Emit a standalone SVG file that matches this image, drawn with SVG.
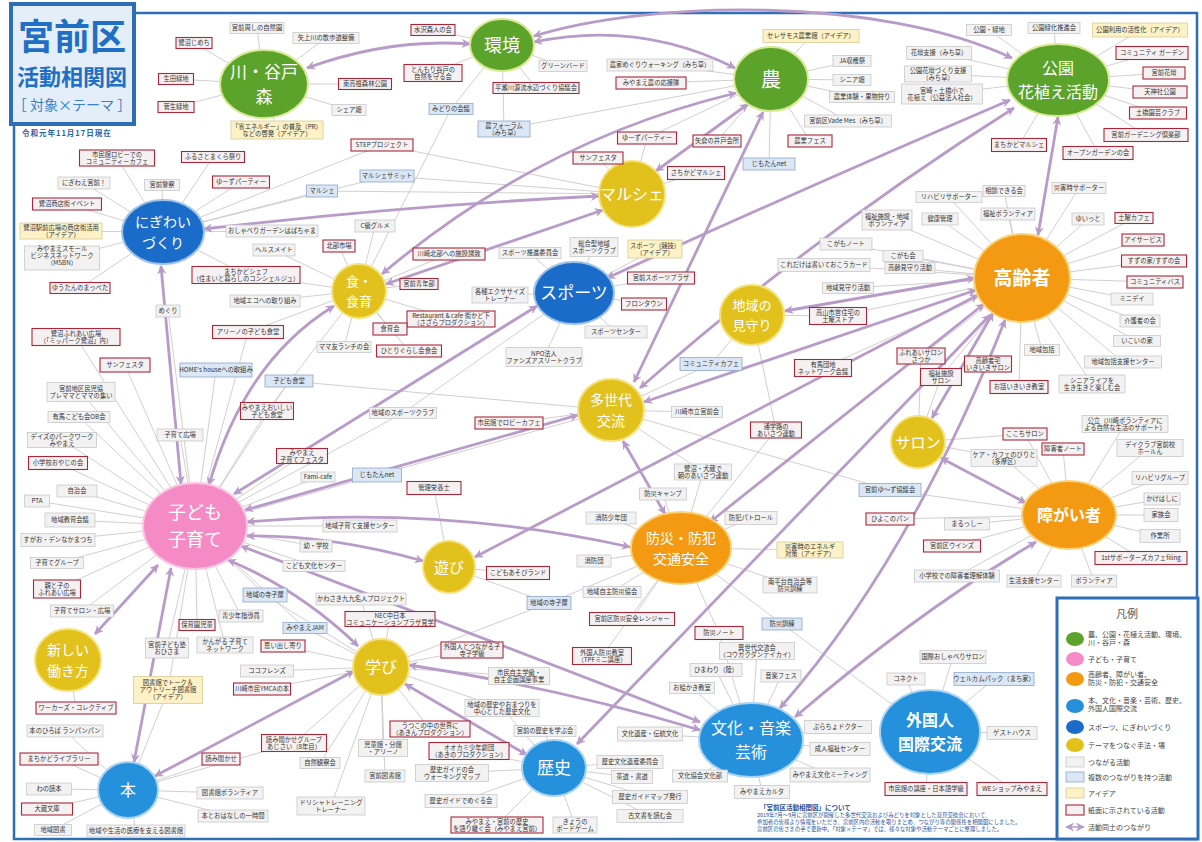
<svg xmlns="http://www.w3.org/2000/svg" width="1202" height="842" viewBox="0 0 1202 842">
<defs>
<marker id="ah" viewBox="0 0 10 10" refX="9" refY="5" markerWidth="11" markerHeight="9" markerUnits="userSpaceOnUse" orient="auto-start-reverse"><path d="M0,0 L10,5 L0,10 L3,5 z" fill="#b89bc8"/></marker>
<style>
.c{stroke:#cfc7cc;stroke-width:0.9;fill:none}
.a{stroke:#b89bc8;stroke-width:2.8;fill:none;marker-start:url(#ah);marker-end:url(#ah)}
.bg{fill:#f2f2f2;stroke:#c9c9c9;stroke-width:0.8}
.bb{fill:#dbe7f5;stroke:#8fa9c9;stroke-width:0.8}
.by{fill:#fcf2c6;stroke:#d6cb95;stroke-width:0.8}
.br{fill:#f5f1f3;stroke:#a8283a;stroke-width:1.1}
.t{font-family:"Noto Sans CJK JP","Noto Sans",sans-serif;font-size:6.3px;fill:#333;text-anchor:middle}
.ht{font-family:"Noto Sans CJK JP","Noto Sans",sans-serif;fill:#fff;text-anchor:middle}
.hg{fill:#5ba32b;stroke:#d7e88f;stroke-width:2}
.hp{fill:#f58bc6;stroke:#fbc6e2;stroke-width:2}
.ho{fill:#f39a12;stroke:#f9d27a;stroke-width:2}
.hl{fill:#2590dc;stroke:#a9d3f2;stroke-width:2}
.hb{fill:#1b6cc9;stroke:#9cc2ea;stroke-width:2}
.hy{fill:#e2c11c;stroke:#f4e27c;stroke-width:2}
.lt{font-family:"Noto Sans CJK JP","Noto Sans",sans-serif;font-size:7px;fill:#444}
</style>
</defs>
<rect x="0" y="0" width="1202" height="842" fill="#fff"/>
<rect x="14" y="13" width="1183" height="826" fill="none" stroke="#2d6eb4" stroke-width="2.5"/>

<g id="connectors">
<path class="c" d="M257,28L264,84M194,43L264,84M176,79L264,84M176,107L264,84M277,130L264,84M365,84L264,84M349,110L264,84M326,38L264,84"/>
<path class="c" d="M433,30L502,45M433,73L502,45M563,66L502,45M536,88L502,45M451,109L502,45M504,129L502,45"/>
<path class="c" d="M504,129L771,79M811,36L771,79M660,65L771,79M651,83L771,79M852,61L771,79M852,80L771,79M862,97L771,79M848,121L771,79M810,141L771,79M769,164L771,79M717,141L771,79M647,138L771,79"/>
<path class="c" d="M989,30L1058,80M1054,28L1058,80M1140,30L1058,80M939,53L1058,80M1152,53L1058,80M938,74L1058,80M1164,73L1058,80M942,94L1058,80M1160,92L1058,80M1158,113L1058,80M1146,135L1058,80M1019,145L1058,80M1098,153L1058,80"/>
<path class="c" d="M117,158L163,232M213,157L163,232M84,183L163,232M162,185L163,232M241,182L163,232M67,204L163,232M61,231L163,232M62,258L163,232M80,288L163,232M272,231L163,232M246,275L163,232M382,145L163,232M387,176L163,232M322,191L163,232"/>
<path class="c" d="M647,138L632,194M696,173L632,194M598,158L632,194M382,145L632,194M387,176L632,194M322,191L632,194"/>
<path class="c" d="M451,109L359,291M265,301L359,291M248,332L359,291M267,411L359,291M274,250L359,291M246,275L359,291M375,226L359,291M339,246L359,291M449,254L359,291M419,284L359,291M451,319L359,291M390,329L359,291M344,347L359,291M409,351L359,291"/>
<path class="c" d="M530,253L574,293M594,247L574,293M655,249L574,293M661,278L574,293M644,304L574,293M616,332L574,293M544,357L574,293M500,295L574,293M403,413L574,293"/>
<path class="c" d="M1079,188L1022,278M1004,191L1022,278M949,197L1022,278M1008,214L1022,278M940,219L1022,278M1088,219L1022,278M1134,218L1022,278M1143,240L1022,278M1154,261L1022,278M1155,282L1022,278M1132,299L1022,278M1140,321L1022,278M1137,341L1022,278M1123,362L1022,278M1042,350L1022,278M1092,384L1022,278M1019,387L1022,278M988,364L1022,278M921,356L1022,278M941,377L1022,278M887,220L1022,278M846,244L1022,278M824,265L1022,278M848,288L1022,278M903,256L1022,278M910,268L1022,278M838,316L1022,278M823,368L1022,278"/>
<path class="c" d="M711,364L752,315M776,430L752,315M838,316L752,315"/>
<path class="c" d="M711,364L611,410M697,412L611,410M509,423L611,410M289,381L611,410M377,475L611,410M890,490L611,410M703,472L611,410"/>
<path class="c" d="M921,356L918,442M941,377L918,442M1025,434L918,442M1004,458L918,442"/>
<path class="c" d="M168,311L195,526M248,332L195,526M76,337L195,526M125,365L195,526M216,370L195,526M289,381L195,526M81,392L195,526M79,417L195,526M267,411L195,526M62,440L195,526M180,435L195,526M58,463L195,526M302,456L195,526M318,477L195,526M377,475L195,526M77,491L195,526M37,501L195,526M70,520L195,526M58,540L195,526M57,563L195,526M57,589L195,526M82,611L195,526M360,526L195,526M316,546L195,526M314,566L195,526M265,595L195,526M197,625L195,526M241,616L195,526M167,648L195,526M225,645L195,526M305,628L195,526M403,413L195,526M168,690L195,526"/>
<path class="c" d="M434,488L449,567M518,573L449,567M549,603L449,567"/>
<path class="c" d="M703,472L681,548M776,430L681,548M663,494L681,548M751,518L681,548M810,550L681,548M611,518L681,548M594,561L681,548M612,592L681,548M632,619L681,548M602,656L681,548M790,585L681,548M782,624L681,548M719,633L681,548M549,603L681,548"/>
<path class="c" d="M890,490L1069,515M1025,434L1069,515M1063,449L1069,515M1004,458L1069,515M1125,424L1069,515M1150,448L1069,515M1160,478L1069,515M1162,499L1069,515M1161,515L1069,515M1160,536L1069,515M1141,558L1069,515M1094,581L1069,515M1034,581L1069,515M957,576L1069,515M952,546L1069,515M967,524L1069,515M890,519L1069,515"/>
<path class="c" d="M76,708L68,660"/>
<path class="c" d="M265,595L381,667M283,646L381,667M305,628L381,667M262,689L381,667M267,671L381,667M320,763L381,667M294,743L381,667M361,599L381,667M390,619L381,667M472,650L381,667M519,676L381,667M502,708L381,667M430,729L381,667M383,748L381,667M385,776L381,667M331,806L381,667M549,603L381,667"/>
<path class="c" d="M650,734L751,740M700,776L751,740M762,792L751,740M830,775L751,740M840,749L751,740M838,727L751,740M692,688L751,740M716,670L751,740M781,676L751,740M757,651L751,740M719,633L751,740"/>
<path class="c" d="M782,624L930,732M953,657L930,732M906,679L930,732M994,679L930,732M1012,733L930,732M926,789L930,732M1012,789L930,732"/>
<path class="c" d="M65,731L128,790M59,759L128,790M221,759L128,790M294,743L128,790M49,789L128,790M47,809L128,790M230,793L128,790M233,816L128,790M53,830L128,790M136,831L128,790M168,690L128,790"/>
<path class="c" d="M502,708L554,768M545,731L554,768M469,751L554,768M452,773L554,768M461,801L554,768M497,825L554,768M575,825L554,768M630,762L554,768M632,777L554,768M650,797L554,768M650,816L554,768"/>

<path class="a" d="M307,68 Q390,38 470,44"/>
<path class="a" d="M534,36 C650,0 880,-4 1012,58"/>
<path class="a" d="M534,42 Q640,20 735,68"/>
<path class="a" d="M204,229 Q400,206 599,196"/>
<path class="a" d="M382,274 Q540,140 736,93"/>
<path class="a" d="M386,284 L603,210"/>
<path class="a" d="M656,171 L748,104"/>
<path class="a" d="M634,382 L763,112"/>
<path class="a" d="M1058,117 L1038,235"/>
<path class="a" d="M785,311 L975,278"/>
<path class="a" d="M644,402 L976,290"/>
<path class="a" d="M932,418 L993,313"/>
<path class="a" d="M941,458 L1026,503"/>
<path class="a" d="M1036,542 Q920,610 795,717"/>
<path class="a" d="M1005,320 Q910,560 780,708"/>
<path class="a" d="M984,304 L710,522"/>
<path class="a" d="M978,295 L475,557"/>
<path class="a" d="M990,315 L577,744"/>
<path class="a" d="M161,266 L181,484"/>
<path class="a" d="M334,306 Q245,360 209,485"/>
<path class="a" d="M537,306 L234,494"/>
<path class="a" d="M578,415 L245,510"/>
<path class="a" d="M630,547 Q440,505 247,522"/>
<path class="a" d="M423,561 Q330,535 247,536"/>
<path class="a" d="M358,646 Q300,590 228,560"/>
<path class="a" d="M171,568 L134,762"/>
<path class="a" d="M158,565 L95,634"/>
<path class="a" d="M700,722 Q450,625 241,546"/>
<path class="a" d="M409,665 Q560,688 700,730"/>
<path class="a" d="M405,684 L527,755"/>
<path class="a" d="M155,776 L354,671"/>
<path class="a" d="M623,441 L665,514"/>
<path class="a" d="M607,278 Q800,190 1010,100"/>
<path class="a" d="M640,388 Q820,230 1014,108"/>
</g>

<g id="title">
<rect x="11" y="4" width="123" height="120" fill="#e4eef8" stroke="#2d6eb4" stroke-width="4"/>
<text x="72" y="50" font-family="'Noto Sans CJK JP',sans-serif" font-size="36" font-weight="bold" fill="#1f6fc4" text-anchor="middle">宮前区</text>
<text x="72" y="85" font-family="'Noto Sans CJK JP',sans-serif" font-size="22" font-weight="bold" fill="#1f6fc4" text-anchor="middle">活動相関図</text>
<text x="72" y="110" font-family="'Noto Sans CJK JP',sans-serif" font-size="14" fill="#3a82c8" text-anchor="middle">［ 対象×テーマ ］</text>
<text x="22" y="136" font-family="'Noto Sans CJK JP',sans-serif" font-size="7.5" font-weight="bold" fill="#2462a8" letter-spacing="1">令和元年11月17日現在</text>
</g>

<g id="h1"><ellipse class="hg" cx="264" cy="84" rx="44" ry="34"/><text class="ht" x="264" y="77.5" font-size="17">川・谷戸<tspan x="264" dy="25.5">森</tspan></text></g>
<g id="h2"><ellipse class="hg" cx="502" cy="45" rx="32" ry="26"/><text class="ht" x="502" y="52" font-size="18">環境</text></g>
<g id="h3"><ellipse class="hg" cx="771" cy="79" rx="37" ry="32"/><text class="ht" x="771" y="87" font-size="20">農</text></g>
<g id="h4"><ellipse class="hg" cx="1058" cy="80" rx="51" ry="36"/><text class="ht" x="1058" y="74" font-size="16">公園<tspan x="1058" dy="24">花植え活動</tspan></text></g>
<g id="h5"><ellipse class="hb" cx="163" cy="232" rx="41" ry="32"/><text class="ht" x="163" y="226.7" font-size="14">にぎわい<tspan x="163" dy="21">づくり</tspan></text></g>
<g id="h6"><ellipse class="hy" cx="632" cy="194" rx="33" ry="33"/><text class="ht" x="632" y="200" font-size="16">マルシェ</text></g>
<g id="h7"><ellipse class="hy" cx="359" cy="291" rx="27" ry="27"/><text class="ht" x="359" y="286" font-size="13">食・<tspan x="359" dy="19.5">食育</tspan></text></g>
<g id="h8"><ellipse class="hb" cx="574" cy="293" rx="40" ry="31"/><text class="ht" x="574" y="299" font-size="17">スポーツ</text></g>
<g id="h9"><ellipse class="ho" cx="1022" cy="278" rx="48" ry="44"/><text class="ht" x="1022" y="285" font-size="19" font-weight="bold">高齢者</text></g>
<g id="h10"><ellipse class="hy" cx="752" cy="315" rx="32" ry="30"/><text class="ht" x="752" y="310" font-size="13">地域の<tspan x="752" dy="19.5">見守り</tspan></text></g>
<g id="h11"><ellipse class="hy" cx="611" cy="410" rx="33" ry="31"/><text class="ht" x="611" y="404.7" font-size="14">多世代<tspan x="611" dy="21">交流</tspan></text></g>
<g id="h12"><ellipse class="hy" cx="918" cy="442" rx="27" ry="26"/><text class="ht" x="918" y="448" font-size="15">サロン</text></g>
<g id="h13"><ellipse class="hp" cx="195" cy="526" rx="52" ry="43"/><text class="ht" x="195" y="519.2" font-size="18">子ども<tspan x="195" dy="27">子育て</tspan></text></g>
<g id="h14"><ellipse class="hy" cx="449" cy="567" rx="26" ry="26"/><text class="ht" x="449" y="573" font-size="15">遊び</text></g>
<g id="h15"><ellipse class="ho" cx="681" cy="548" rx="50" ry="36"/><text class="ht" x="681" y="542.7" font-size="14">防災・防犯<tspan x="681" dy="21">交通安全</tspan></text></g>
<g id="h16"><ellipse class="ho" cx="1069" cy="515" rx="47" ry="34"/><text class="ht" x="1069" y="521" font-size="16" font-weight="bold">障がい者</text></g>
<g id="h17"><ellipse class="hy" cx="68" cy="660" rx="33" ry="31"/><text class="ht" x="68" y="654.7" font-size="14">新しい<tspan x="68" dy="21">働き方</tspan></text></g>
<g id="h18"><ellipse class="hy" cx="381" cy="667" rx="28" ry="28"/><text class="ht" x="381" y="673" font-size="16">学び</text></g>
<g id="h19"><ellipse class="hl" cx="751" cy="740" rx="52" ry="37"/><text class="ht" x="751" y="734" font-size="16">文化・音楽<tspan x="751" dy="24">芸術</tspan></text></g>
<g id="h20"><ellipse class="hl" cx="930" cy="732" rx="50" ry="42"/><text class="ht" x="930" y="726" font-size="16" font-weight="bold">外国人<tspan x="930" dy="24">国際交流</tspan></text></g>
<g id="h21"><ellipse class="hl" cx="128" cy="790" rx="30" ry="28"/><text class="ht" x="128" y="796" font-size="16">本</text></g>
<g id="h22"><ellipse class="hl" cx="554" cy="768" rx="32" ry="28"/><text class="ht" x="554" y="774" font-size="17">歴史</text></g>

<g id="a1"><rect class="bg" x="230" y="22.5" width="54" height="11"/><text class="t" x="257" y="30.2">宮前周しの自然園</text></g>
<g id="a2"><rect class="br" x="176" y="37.5" width="36" height="11"/><text class="t" x="194" y="45.2">鷺沼じめち</text></g>
<g id="a3"><rect class="br" x="158.5" y="73.5" width="35" height="11"/><text class="t" x="176" y="81.2">生田緑地</text></g>
<g id="a4"><rect class="br" x="158" y="101.5" width="36" height="11"/><text class="t" x="176" y="109.2">菅生緑地</text></g>
<g id="a5"><rect class="by" x="231" y="121" width="92" height="18"/><text class="t" x="277" y="128.7">「省エネルギー」の普及（PR）<tspan x="277" dy="7">などの啓発（アイデア）</tspan></text></g>
<g id="a6"><rect class="br" x="338.5" y="78.5" width="53" height="11"/><text class="t" x="365" y="86.2">東高根森林公園</text></g>
<g id="a7"><rect class="bg" x="332" y="104.5" width="34" height="11"/><text class="t" x="349" y="112.2">シェア畑</text></g>
<g id="a8"><rect class="bg" x="293" y="32.5" width="66" height="11"/><text class="t" x="326" y="40.2">矢上川の散歩道整備</text></g>
<g id="a9"><rect class="br" x="411" y="24.5" width="44" height="11"/><text class="t" x="433" y="32.2">水沢森人の会</text></g>
<g id="a10"><rect class="br" x="404" y="64.5" width="58" height="17"/><text class="t" x="433" y="71.7">とんもり谷戸の<tspan x="433" dy="7">自然を守る会</tspan></text></g>
<g id="a11"><rect class="bg" x="539" y="60.5" width="48" height="11"/><text class="t" x="563" y="68.2">グリーンバード</text></g>
<g id="a12"><rect class="br" x="493" y="82.5" width="86" height="11"/><text class="t" x="536" y="90.2">平瀬川源流水辺づくり協議会</text></g>
<g id="a13"><rect class="bb" x="429" y="103.5" width="44" height="11"/><text class="t" x="451" y="111.2">みどりの会議</text></g>
<g id="a14"><rect class="bb" x="478" y="121" width="52" height="16"/><text class="t" x="504" y="127.7">農フォーラム<tspan x="504" dy="7">（みち草）</tspan></text></g>
<g id="a15"><rect class="by" x="763" y="29.5" width="96" height="13"/><text class="t" x="811" y="38.2">セレサモス農業館（アイデア）</text></g>
<g id="a16"><rect class="bg" x="607" y="59" width="106" height="12"/><text class="t" x="660" y="67.2">農家めぐりウォーキング（みち草）</text></g>
<g id="a17"><rect class="br" x="616" y="77" width="70" height="12"/><text class="t" x="651" y="85.2">みやまえ農の応援隊</text></g>
<g id="a18"><rect class="bg" x="833" y="55.5" width="38" height="11"/><text class="t" x="852" y="63.2">JA収穫祭</text></g>
<g id="a19"><rect class="bg" x="833" y="74.5" width="38" height="11"/><text class="t" x="852" y="82.2">シニア畑</text></g>
<g id="a20"><rect class="bg" x="829.5" y="91.5" width="65" height="11"/><text class="t" x="862" y="99.2">農業体験・果物狩り</text></g>
<g id="a21"><rect class="bg" x="804.5" y="115" width="87" height="12"/><text class="t" x="848" y="123.2">宮前区Vade Mes（みち草）</text></g>
<g id="a22"><rect class="br" x="788" y="135" width="44" height="12"/><text class="t" x="810" y="143.2">農業フェス</text></g>
<g id="a23"><rect class="bb" x="743" y="158" width="52" height="12"/><text class="t" x="769" y="166.2">じもたんnet</text></g>
<g id="a24"><rect class="br" x="693" y="135" width="48" height="12"/><text class="t" x="717" y="143.2">矢倉の井戸会所</text></g>
<g id="a25"><rect class="br" x="617.5" y="132" width="59" height="12"/><text class="t" x="647" y="140.2">ゆーずパーティー</text></g>
<g id="a26"><rect class="br" x="667.5" y="166.5" width="57" height="13"/><text class="t" x="696" y="175.2">さちかどマルシェ</text></g>
<g id="a27"><rect class="br" x="573" y="152" width="50" height="12"/><text class="t" x="598" y="160.2">サンフェスタ</text></g>
<g id="a28"><rect class="bg" x="966.5" y="24.5" width="45" height="11"/><text class="t" x="989" y="32.2">公園・緑地</text></g>
<g id="a29"><rect class="bg" x="1028" y="22.5" width="52" height="11"/><text class="t" x="1054" y="30.2">公園緑化推進会</text></g>
<g id="a30"><rect class="by" x="1092.5" y="23" width="95" height="14"/><text class="t" x="1140" y="32.2">公園利用の活性化（アイデア）</text></g>
<g id="a31"><rect class="bg" x="906.5" y="46.5" width="65" height="13"/><text class="t" x="939" y="55.2">花壇支援（みち草）</text></g>
<g id="a32"><rect class="br" x="1116" y="46.5" width="72" height="13"/><text class="t" x="1152" y="55.2">コミュニティ ガーデン</text></g>
<g id="a33"><rect class="bg" x="904.5" y="66" width="67" height="16"/><text class="t" x="938" y="72.7">公園花壇づくり支援<tspan x="938" dy="7">（みち草）</tspan></text></g>
<g id="a34"><rect class="br" x="1143" y="67" width="42" height="12"/><text class="t" x="1164" y="75.2">宮前花壇</text></g>
<g id="a35"><rect class="bg" x="901.5" y="84" width="81" height="20"/><text class="t" x="942" y="92.7">宮崎・土橋小で<tspan x="942" dy="7">花植え（公益法人社会）</tspan></text></g>
<g id="a36"><rect class="br" x="1133" y="86" width="54" height="12"/><text class="t" x="1160" y="94.2">天神社公園</text></g>
<g id="a37"><rect class="br" x="1129.5" y="107" width="57" height="12"/><text class="t" x="1158" y="115.2">土橋園芸クラブ</text></g>
<g id="a38"><rect class="br" x="1104" y="128.5" width="84" height="13"/><text class="t" x="1146" y="137.2">宮前ガーデニング倶楽部</text></g>
<g id="a39"><rect class="br" x="991.5" y="138.5" width="55" height="13"/><text class="t" x="1019" y="147.2">まちかどマルシェ</text></g>
<g id="a40"><rect class="br" x="1063" y="146.5" width="70" height="13"/><text class="t" x="1098" y="155.2">オープンガーデンの会</text></g>
<g id="a41"><rect class="bg" x="1052" y="182.5" width="54" height="11"/><text class="t" x="1079" y="190.2">災害時サポーター</text></g>
<g id="a42"><rect class="bg" x="983" y="185.5" width="42" height="11"/><text class="t" x="1004" y="193.2">相談できる会</text></g>
<g id="a43"><rect class="bg" x="916" y="191.5" width="66" height="11"/><text class="t" x="949" y="199.2">リハビリサポーター</text></g>
<g id="a44"><rect class="bg" x="981" y="208" width="54" height="12"/><text class="t" x="1008" y="216.2">福祉ボランティア</text></g>
<g id="a45"><rect class="bg" x="922" y="213" width="36" height="12"/><text class="t" x="940" y="221.2">健康管理</text></g>
<g id="a46"><rect class="bg" x="1072" y="213" width="32" height="12"/><text class="t" x="1088" y="221.2">ゆいっと</text></g>
<g id="a47"><rect class="br" x="1115" y="212.5" width="38" height="11"/><text class="t" x="1134" y="220.2">土曜カフェ</text></g>
<g id="a48"><rect class="br" x="1122" y="234" width="42" height="12"/><text class="t" x="1143" y="242.2">アイサービス</text></g>
<g id="a49"><rect class="br" x="1121.5" y="255" width="65" height="12"/><text class="t" x="1154" y="263.2">すずの家/すずの会</text></g>
<g id="a50"><rect class="br" x="1127" y="276" width="56" height="12"/><text class="t" x="1155" y="284.2">コミュニティバス</text></g>
<g id="a51"><rect class="bg" x="1111" y="293" width="42" height="12"/><text class="t" x="1132" y="301.2">ミニデイ</text></g>
<g id="a52"><rect class="bg" x="1120" y="315" width="40" height="12"/><text class="t" x="1140" y="323.2">介護者の会</text></g>
<g id="a53"><rect class="bg" x="1113.5" y="335.5" width="47" height="11"/><text class="t" x="1137" y="343.2">いこいの家</text></g>
<g id="a54"><rect class="bg" x="1084.5" y="356" width="77" height="12"/><text class="t" x="1123" y="364.2">地域包括支援センター</text></g>
<g id="a55"><rect class="bg" x="1024.5" y="344.5" width="35" height="11"/><text class="t" x="1042" y="352.2">地域包括</text></g>
<g id="a56"><rect class="bg" x="1059" y="375" width="66" height="18"/><text class="t" x="1092" y="382.7">シニアライフを<tspan x="1092" dy="7">生き生きと楽しむ会</tspan></text></g>
<g id="a57"><rect class="br" x="990" y="380.5" width="58" height="13"/><text class="t" x="1019" y="389.2">お話いきいき教室</text></g>
<g id="a58"><rect class="br" x="964.5" y="356" width="47" height="16"/><text class="t" x="988" y="362.7">高齢者宅<tspan x="988" dy="7">いきいきサロン</tspan></text></g>
<g id="a59"><rect class="br" x="897" y="348" width="48" height="16"/><text class="t" x="921" y="354.7">ふれあいサロン<tspan x="921" dy="7">さつか</tspan></text></g>
<g id="a60"><rect class="br" x="920.5" y="368.5" width="41" height="17"/><text class="t" x="941" y="375.7">福祉施設<tspan x="941" dy="7">サロン</tspan></text></g>
<g id="a61"><rect class="bg" x="862" y="210" width="50" height="20"/><text class="t" x="887" y="218.7">福祉施設・地域<tspan x="887" dy="7">ボランティア</tspan></text></g>
<g id="a62"><rect class="bg" x="820" y="238" width="52" height="12"/><text class="t" x="846" y="246.2">こがもノート</text></g>
<g id="a63"><rect class="bg" x="778" y="258.5" width="92" height="13"/><text class="t" x="824" y="267.2">これだけは書いておこうカード</text></g>
<g id="a64"><rect class="bg" x="822.5" y="282.5" width="51" height="11"/><text class="t" x="848" y="290.2">地域見守り活動</text></g>
<g id="a65"><rect class="bg" x="883" y="250.5" width="40" height="11"/><text class="t" x="903" y="258.2">こがも会</text></g>
<g id="a66"><rect class="bg" x="885" y="262.5" width="50" height="11"/><text class="t" x="910" y="270.2">高齢見守り活動</text></g>
<g id="a67"><rect class="br" x="809.5" y="307.5" width="57" height="17"/><text class="t" x="838" y="314.7">高山市営住宅の<tspan x="838" dy="7">土曜ストア</tspan></text></g>
<g id="a68"><rect class="br" x="794.5" y="359.5" width="57" height="17"/><text class="t" x="823" y="366.7">有馬団地<tspan x="823" dy="7">ネットワーク会議</tspan></text></g>
<g id="a69"><rect class="bb" x="680" y="357.5" width="62" height="13"/><text class="t" x="711" y="366.2">コミュニティカフェ</text></g>
<g id="a70"><rect class="bg" x="671.5" y="406.5" width="51" height="11"/><text class="t" x="697" y="414.2">川崎市立宮前会</text></g>
<g id="a71"><rect class="br" x="475" y="417" width="68" height="12"/><text class="t" x="509" y="425.2">市民館でロビーカフェ</text></g>
<g id="a72"><rect class="bb" x="265" y="375" width="48" height="12"/><text class="t" x="289" y="383.2">子ども食堂</text></g>
<g id="a73"><rect class="bb" x="352.5" y="468" width="49" height="14"/><text class="t" x="377" y="477.2">じもたんnet</text></g>
<g id="a74"><rect class="bb" x="859" y="483.5" width="62" height="13"/><text class="t" x="890" y="492.2">宮前ゆ〜ず協議会</text></g>
<g id="a75"><rect class="bg" x="369.5" y="407.5" width="67" height="11"/><text class="t" x="403" y="415.2">地域のスポーツクラブ</text></g>
<g id="a76"><rect class="br" x="750.5" y="422" width="51" height="16"/><text class="t" x="776" y="428.7">通学路の<tspan x="776" dy="7">あいさつ運動</tspan></text></g>
<g id="a77"><rect class="bg" x="674.5" y="464" width="57" height="16"/><text class="t" x="703" y="470.7">鷺沼・犬蔵で<tspan x="703" dy="7">朝のあいさつ運動</tspan></text></g>
<g id="a78"><rect class="br" x="1003" y="428" width="44" height="12"/><text class="t" x="1025" y="436.2">ここちサロン</text></g>
<g id="a79"><rect class="br" x="1042" y="443" width="42" height="12"/><text class="t" x="1063" y="451.2">障害者ノート</text></g>
<g id="a80"><rect class="bg" x="971" y="449.5" width="66" height="17"/><text class="t" x="1004" y="456.7">ケア・カフェのびりと<tspan x="1004" dy="7">（多摩区）</tspan></text></g>
<g id="a81"><rect class="bg" x="1082" y="415.5" width="86" height="17"/><text class="t" x="1125" y="422.7">公立（川崎ボランティアに<tspan x="1125" dy="7">よる自然な生活のサポート）</tspan></text></g>
<g id="a82"><rect class="bg" x="1117" y="439.5" width="66" height="17"/><text class="t" x="1150" y="446.7">デイクラブ宮前校<tspan x="1150" dy="7">ホールん</tspan></text></g>
<g id="a83"><rect class="bg" x="1132" y="471.5" width="56" height="13"/><text class="t" x="1160" y="480.2">リハビリグループ</text></g>
<g id="a84"><rect class="bg" x="1144" y="493" width="36" height="12"/><text class="t" x="1162" y="501.2">かけはしに</text></g>
<g id="a85"><rect class="bg" x="1144" y="508.5" width="34" height="13"/><text class="t" x="1161" y="517.2">家族会</text></g>
<g id="a86"><rect class="bg" x="1140" y="529.5" width="40" height="13"/><text class="t" x="1160" y="538.2">作業所</text></g>
<g id="a87"><rect class="br" x="1095" y="551.5" width="92" height="13"/><text class="t" x="1141" y="560.2">1stサポーターズカフェfiling</text></g>
<g id="a88"><rect class="bg" x="1071.5" y="575" width="45" height="12"/><text class="t" x="1094" y="583.2">ボランティア</text></g>
<g id="a89"><rect class="bg" x="1007" y="575" width="54" height="12"/><text class="t" x="1034" y="583.2">生活支援センター</text></g>
<g id="a90"><rect class="bg" x="914.5" y="570" width="85" height="12"/><text class="t" x="957" y="578.2">小学校での障害者理解体験</text></g>
<g id="a91"><rect class="br" x="923.5" y="540" width="57" height="12"/><text class="t" x="952" y="548.2">宮前区ウインズ</text></g>
<g id="a92"><rect class="bg" x="944.5" y="518" width="45" height="12"/><text class="t" x="967" y="526.2">まるっしー</text></g>
<g id="a93"><rect class="br" x="866" y="513" width="48" height="12"/><text class="t" x="890" y="521.2">ひよこのパン</text></g>
<g id="a94"><rect class="bg" x="156" y="305" width="24" height="12"/><text class="t" x="168" y="313.2">めぐり</text></g>
<g id="a95"><rect class="bg" x="230" y="295" width="70" height="12"/><text class="t" x="265" y="303.2">地域エコへの取り組み</text></g>
<g id="a96"><rect class="br" x="212.5" y="325.5" width="71" height="13"/><text class="t" x="248" y="334.2">アリーノの子ども食堂</text></g>
<g id="a97"><rect class="br" x="32" y="328.5" width="88" height="17"/><text class="t" x="76" y="335.7">鷺沼ふれあい広場<tspan x="76" dy="7">（「ミッパーク鷺沼」内）</tspan></text></g>
<g id="a98"><rect class="br" x="100" y="358" width="50" height="14"/><text class="t" x="125" y="367.2">サンフェスタ</text></g>
<g id="a99"><rect class="bb" x="180" y="363" width="72" height="14"/><text class="t" x="216" y="372.2">HOME's houseへの取組み</text></g>
<g id="a100"><rect class="bg" x="47" y="382.5" width="68" height="19"/><text class="t" x="81" y="390.7">宮前地区民児協<tspan x="81" dy="7">プレママとママの集い</tspan></text></g>
<g id="a101"><rect class="bg" x="48" y="411.5" width="62" height="11"/><text class="t" x="79" y="419.2">有馬こども会OB会</text></g>
<g id="a102"><rect class="br" x="240.5" y="402.5" width="53" height="17"/><text class="t" x="267" y="409.7">みやまえおいしい<tspan x="267" dy="7">子ども食堂</tspan></text></g>
<g id="a103"><rect class="bg" x="27.5" y="432.5" width="69" height="15"/><text class="t" x="62" y="438.7">デイズのパークワーク<tspan x="62" dy="7">みやまえ</tspan></text></g>
<g id="a104"><rect class="bg" x="157" y="429" width="46" height="12"/><text class="t" x="180" y="437.2">子育て広場</text></g>
<g id="a105"><rect class="br" x="28.5" y="456.5" width="59" height="13"/><text class="t" x="58" y="465.2">小学校おやじの会</text></g>
<g id="a106"><rect class="br" x="276.5" y="448.5" width="51" height="15"/><text class="t" x="302" y="454.7">みやまえ<tspan x="302" dy="7">子育てフェスタ</tspan></text></g>
<g id="a107"><rect class="bg" x="301" y="472" width="34" height="10"/><text class="t" x="318" y="479.2">Fami-cafe</text></g>
<g id="a108"><rect class="br" x="407" y="481.5" width="54" height="13"/><text class="t" x="434" y="490.2">管理栄養士</text></g>
<g id="a109"><rect class="bg" x="57" y="485" width="40" height="12"/><text class="t" x="77" y="493.2">自治会</text></g>
<g id="a110"><rect class="bg" x="24.5" y="495" width="25" height="12"/><text class="t" x="37" y="503.2">PTA</text></g>
<g id="a111"><rect class="bg" x="45" y="513" width="50" height="14"/><text class="t" x="70" y="522.2">地域教育会議</text></g>
<g id="a112"><rect class="bg" x="21" y="533.5" width="74" height="13"/><text class="t" x="58" y="542.2">すがお・デンなかまつち</text></g>
<g id="a113"><rect class="bg" x="30.5" y="557.5" width="53" height="11"/><text class="t" x="57" y="565.2">子育てグループ</text></g>
<g id="a114"><rect class="br" x="33.5" y="580" width="47" height="18"/><text class="t" x="57" y="587.7">親と子の<tspan x="57" dy="7">ふれあい広場</tspan></text></g>
<g id="a115"><rect class="bg" x="50.5" y="605" width="63" height="12"/><text class="t" x="82" y="613.2">子育てサロン・広場</text></g>
<g id="a116"><rect class="bg" x="323" y="520" width="74" height="12"/><text class="t" x="360" y="528.2">地域子育て支援センター</text></g>
<g id="a117"><rect class="bg" x="300" y="540" width="32" height="12"/><text class="t" x="316" y="548.2">幼・学校</text></g>
<g id="a118"><rect class="bg" x="283" y="560.5" width="62" height="11"/><text class="t" x="314" y="568.2">こども文化センター</text></g>
<g id="a119"><rect class="bb" x="243" y="588" width="44" height="14"/><text class="t" x="265" y="597.2">地域の寺子屋</text></g>
<g id="a120"><rect class="br" x="179" y="619.5" width="36" height="11"/><text class="t" x="197" y="627.2">保育園児童</text></g>
<g id="a121"><rect class="bg" x="219" y="610" width="44" height="12"/><text class="t" x="241" y="618.2">青少年指導員</text></g>
<g id="a122"><rect class="bg" x="145.5" y="638" width="43" height="20"/><text class="t" x="167" y="646.7">宮前子ども塾<tspan x="167" dy="7">おひさま</tspan></text></g>
<g id="a123"><rect class="bg" x="197" y="637" width="56" height="16"/><text class="t" x="225" y="643.7">かんがる 子育て<tspan x="225" dy="7">ネットワーク</tspan></text></g>
<g id="a124"><rect class="br" x="261" y="640" width="44" height="12"/><text class="t" x="283" y="648.2">思い出し寄り</text></g>
<g id="a125"><rect class="bb" x="283" y="622.5" width="44" height="11"/><text class="t" x="305" y="630.2">みやまえJAM</text></g>
<g id="a127"><rect class="br" x="36" y="702" width="80" height="12"/><text class="t" x="76" y="710.2">ワーカーズ・コレクティブ</text></g>
<g id="a128"><rect class="bg" x="27" y="725" width="76" height="12"/><text class="t" x="65" y="733.2">本のひろば ランパンパン</text></g>
<g id="a129"><rect class="br" x="20" y="753" width="78" height="12"/><text class="t" x="59" y="761.2">まちかどライブラリー</text></g>
<g id="a130"><rect class="br" x="202" y="753" width="38" height="12"/><text class="t" x="221" y="761.2">読み聞かせ</text></g>
<g id="a131"><rect class="br" x="261.5" y="734.5" width="65" height="17"/><text class="t" x="294" y="741.7">読み聞かせグループ<tspan x="294" dy="7">あじさい（8年目）</tspan></text></g>
<g id="a132"><rect class="bg" x="26.5" y="783" width="45" height="12"/><text class="t" x="49" y="791.2">わの読本</text></g>
<g id="a133"><rect class="br" x="21.5" y="803" width="51" height="12"/><text class="t" x="47" y="811.2">大蔵文庫</text></g>
<g id="a134"><rect class="bg" x="197" y="787" width="66" height="12"/><text class="t" x="230" y="795.2">図書館ボランティア</text></g>
<g id="a135"><rect class="bg" x="198" y="810" width="70" height="12"/><text class="t" x="233" y="818.2">本とおはなしの一時間</text></g>
<g id="a136"><rect class="bg" x="34.5" y="824.5" width="37" height="11"/><text class="t" x="53" y="832.2">地域図書</text></g>
<g id="a137"><rect class="bg" x="87" y="825" width="98" height="12"/><text class="t" x="136" y="833.2">地域や生活の医療を支える図書館</text></g>
<g id="a138"><rect class="by" x="133.5" y="676.5" width="69" height="27"/><text class="t" x="168" y="685.2">図書館でトーク＆<tspan x="168" dy="7">アウトリーチ図書館</tspan><tspan x="168" dy="7">（アイデア）</tspan></text></g>
<g id="a139"><rect class="br" x="233.5" y="683" width="57" height="12"/><text class="t" x="262" y="691.2">川崎市民YMCAの本</text></g>
<g id="a140"><rect class="bg" x="240.5" y="665" width="53" height="12"/><text class="t" x="267" y="673.2">ココフレンズ</text></g>
<g id="a141"><rect class="bg" x="300" y="757.5" width="40" height="11"/><text class="t" x="320" y="765.2">自然観察会</text></g>
<g id="a142"><rect class="bg" x="316" y="593" width="90" height="12"/><text class="t" x="361" y="601.2">かわさき九九名人プロジェクト</text></g>
<g id="a143"><rect class="br" x="345" y="611.5" width="90" height="15"/><text class="t" x="390" y="617.7">NEC中日本<tspan x="390" dy="7">コミュニケーションプラザ見学</tspan></text></g>
<g id="a144"><rect class="br" x="441" y="642" width="62" height="16"/><text class="t" x="472" y="648.7">外国人とつながる子<tspan x="472" dy="7">寺子学級</tspan></text></g>
<g id="a145"><rect class="bg" x="488.5" y="667.5" width="61" height="17"/><text class="t" x="519" y="674.7">市民自主学級・<tspan x="519" dy="7">自主企画講座事業</tspan></text></g>
<g id="a146"><rect class="bg" x="465" y="699.5" width="74" height="17"/><text class="t" x="502" y="706.7">地域の歴史やおまつりを<tspan x="502" dy="7">中心とした歴史文化</tspan></text></g>
<g id="a147"><rect class="br" x="390" y="721" width="80" height="16"/><text class="t" x="430" y="727.7">うつこの中の世界に<tspan x="430" dy="7">（あきんプロダクション）</tspan></text></g>
<g id="a148"><rect class="bg" x="358.5" y="739.5" width="49" height="17"/><text class="t" x="383" y="746.7">児童館・分館<tspan x="383" dy="7">・アリーノ</tspan></text></g>
<g id="a149"><rect class="bg" x="365" y="770" width="40" height="12"/><text class="t" x="385" y="778.2">宮前図書館</text></g>
<g id="a150"><rect class="bg" x="297" y="797" width="68" height="18"/><text class="t" x="331" y="804.7">ドリシャトレーニング<tspan x="331" dy="7">トレーナー</tspan></text></g>
<g id="a151"><rect class="bb" x="527" y="596.5" width="44" height="13"/><text class="t" x="549" y="605.2">地域の寺子屋</text></g>
<g id="a152"><rect class="br" x="486.5" y="566.5" width="63" height="13"/><text class="t" x="518" y="575.2">こどもあそびランド</text></g>
<g id="a153"><rect class="bg" x="514" y="725.5" width="62" height="11"/><text class="t" x="545" y="733.2">宮前の歴史を学ぶ会</text></g>
<g id="a154"><rect class="br" x="429" y="742.5" width="80" height="17"/><text class="t" x="469" y="749.7">オオカミ少年劇団<tspan x="469" dy="7">（あきのプロダクション）</tspan></text></g>
<g id="a155"><rect class="bg" x="415.5" y="764.5" width="73" height="17"/><text class="t" x="452" y="771.7">歴史ガイドの会<tspan x="452" dy="7">ウォーキングマップ</tspan></text></g>
<g id="a156"><rect class="bg" x="425" y="794.5" width="72" height="13"/><text class="t" x="461" y="803.2">歴史ガイドでめぐる会</text></g>
<g id="a157"><rect class="br" x="451" y="817" width="92" height="16"/><text class="t" x="497" y="823.7">みやまえ・宮前の歴史<tspan x="497" dy="7">を語り継ぐ会（みやまえ宮前）</tspan></text></g>
<g id="a158"><rect class="bg" x="553" y="817" width="44" height="16"/><text class="t" x="575" y="823.7">きょうの<tspan x="575" dy="7">ボードゲーム</tspan></text></g>
<g id="a159"><rect class="bg" x="597" y="755.5" width="66" height="13"/><text class="t" x="630" y="764.2">歴史文化遺産委員会</text></g>
<g id="a160"><rect class="bg" x="611.5" y="770.5" width="41" height="13"/><text class="t" x="632" y="779.2">茶道・書道</text></g>
<g id="a161"><rect class="bg" x="612.5" y="790.5" width="75" height="13"/><text class="t" x="650" y="799.2">歴史ガイドマップ発行</text></g>
<g id="a162"><rect class="bg" x="617" y="809.5" width="66" height="13"/><text class="t" x="650" y="818.2">古文書を読む会</text></g>
<g id="a163"><rect class="bg" x="617.5" y="727" width="65" height="14"/><text class="t" x="650" y="736.2">文化遺産・伝統文化</text></g>
<g id="a164"><rect class="bg" x="672.5" y="770" width="55" height="12"/><text class="t" x="700" y="778.2">文化協会文化部</text></g>
<g id="a165"><rect class="bg" x="734.5" y="785.5" width="55" height="13"/><text class="t" x="762" y="794.2">みやまえカルタ</text></g>
<g id="a166"><rect class="bg" x="790" y="768" width="80" height="14"/><text class="t" x="830" y="777.2">みやまえ文化ミーティング</text></g>
<g id="a167"><rect class="bg" x="810" y="742.5" width="60" height="13"/><text class="t" x="840" y="751.2">成人福祉センター</text></g>
<g id="a168"><rect class="bg" x="804.5" y="720.5" width="67" height="13"/><text class="t" x="838" y="729.2">ぶらちょドクター</text></g>
<g id="a169"><rect class="bg" x="669.5" y="682.5" width="45" height="11"/><text class="t" x="692" y="690.2">お絵かき教室</text></g>
<g id="a170"><rect class="bg" x="690" y="663.5" width="52" height="13"/><text class="t" x="716" y="672.2">ひまわり（陸）</text></g>
<g id="a171"><rect class="bg" x="761" y="670" width="40" height="12"/><text class="t" x="781" y="678.2">音楽フェス</text></g>
<g id="a172"><rect class="bg" x="719.5" y="642.5" width="75" height="17"/><text class="t" x="757" y="649.7">異世代交流会<tspan x="757" dy="7">（コウガクダンテイカイ）</tspan></text></g>
<g id="a173"><rect class="br" x="695" y="626.5" width="48" height="13"/><text class="t" x="719" y="635.2">防災ノート</text></g>
<g id="a174"><rect class="bg" x="639.5" y="488" width="47" height="12"/><text class="t" x="663" y="496.2">防災キャンプ</text></g>
<g id="a175"><rect class="bg" x="725" y="511.5" width="52" height="13"/><text class="t" x="751" y="520.2">防犯パトロール</text></g>
<g id="a176"><rect class="by" x="777" y="542" width="66" height="16"/><text class="t" x="810" y="548.7">災害時のエネルギ<tspan x="810" dy="7">対策（アイデア）</tspan></text></g>
<g id="a177"><rect class="bg" x="586" y="512" width="50" height="12"/><text class="t" x="611" y="520.2">消防少年団</text></g>
<g id="a178"><rect class="bg" x="577" y="555" width="34" height="12"/><text class="t" x="594" y="563.2">消防団</text></g>
<g id="a179"><rect class="bg" x="583" y="586.5" width="58" height="11"/><text class="t" x="612" y="594.2">地域自主防災協会</text></g>
<g id="a180"><rect class="br" x="589.5" y="612.5" width="85" height="13"/><text class="t" x="632" y="621.2">宮前区防災安全レンジャー</text></g>
<g id="a181"><rect class="br" x="572.5" y="647.5" width="59" height="17"/><text class="t" x="602" y="654.7">外国人防災教室<tspan x="602" dy="7">（TPFミニ講座）</tspan></text></g>
<g id="a182"><rect class="bg" x="763" y="577" width="54" height="16"/><text class="t" x="790" y="583.7">南平台自治会等<tspan x="790" dy="7">防災訓練</tspan></text></g>
<g id="a183"><rect class="bb" x="762" y="618" width="40" height="12"/><text class="t" x="782" y="626.2">防災訓練</text></g>
<g id="a184"><rect class="bg" x="920" y="650.5" width="66" height="13"/><text class="t" x="953" y="659.2">国際おしゃべりサロン</text></g>
<g id="a185"><rect class="bg" x="887" y="673" width="38" height="12"/><text class="t" x="906" y="681.2">コネクト</text></g>
<g id="a186"><rect class="bb" x="954" y="672.5" width="80" height="13"/><text class="t" x="994" y="681.2">ウェルカムパック（まち家）</text></g>
<g id="a187"><rect class="bg" x="987" y="726.5" width="50" height="13"/><text class="t" x="1012" y="735.2">ゲストハウス</text></g>
<g id="a188"><rect class="br" x="885" y="782.5" width="82" height="13"/><text class="t" x="926" y="791.2">市民館の講座・日本語学級</text></g>
<g id="a189"><rect class="br" x="977" y="782.5" width="70" height="13"/><text class="t" x="1012" y="791.2">WEショップみやまえ</text></g>
<g id="a190"><rect class="br" x="79.5" y="150" width="75" height="16"/><text class="t" x="117" y="156.7">市民館ロビーでの<tspan x="117" dy="7">コミュニティーカフェ</tspan></text></g>
<g id="a191"><rect class="br" x="181.5" y="151.5" width="63" height="11"/><text class="t" x="213" y="159.2">ふるさとまくら祭り</text></g>
<g id="a192"><rect class="bg" x="58" y="177" width="52" height="12"/><text class="t" x="84" y="185.2">にぎわえ宮前！</text></g>
<g id="a193"><rect class="bg" x="144.5" y="179.5" width="35" height="11"/><text class="t" x="162" y="187.2">宮前警察</text></g>
<g id="a194"><rect class="br" x="212.5" y="176" width="57" height="12"/><text class="t" x="241" y="184.2">ゆーずパーティー</text></g>
<g id="a195"><rect class="br" x="32.5" y="198" width="69" height="12"/><text class="t" x="67" y="206.2">鷺沼商店街イベント</text></g>
<g id="a196"><rect class="by" x="20" y="223" width="82" height="16"/><text class="t" x="61" y="229.7">鷺沼駅前広場の商店街活用<tspan x="61" dy="7">（アイデア）</tspan></text></g>
<g id="a197"><rect class="bg" x="24.5" y="246" width="75" height="24"/><text class="t" x="62" y="251.2">みやまえスモール<tspan x="62" dy="7">ビジネスネットワーク</tspan><tspan x="62" dy="7">（MSBN）</tspan></text></g>
<g id="a198"><rect class="br" x="50" y="282.5" width="60" height="11"/><text class="t" x="80" y="290.2">ゆうたんのまっぺた</text></g>
<g id="a199"><rect class="bg" x="226" y="225" width="92" height="12"/><text class="t" x="272" y="233.2">おしゃべりガーデンはばちゃま</text></g>
<g id="a200"><rect class="bg" x="253" y="244" width="42" height="12"/><text class="t" x="274" y="252.2">ヘルスメイト</text></g>
<g id="a201"><rect class="br" x="192" y="266.5" width="108" height="17"/><text class="t" x="246" y="273.7">まちかどシェフ<tspan x="246" dy="7">（住まいと暮らしのコンシェルジュ）</tspan></text></g>
<g id="a202"><rect class="br" x="351" y="139" width="62" height="12"/><text class="t" x="382" y="147.2">STEPプロジェクト</text></g>
<g id="a203"><rect class="bb" x="360" y="170" width="54" height="12"/><text class="t" x="387" y="178.2">マルシェサミット</text></g>
<g id="a204"><rect class="bb" x="306.5" y="185" width="31" height="12"/><text class="t" x="322" y="193.2">マルシェ</text></g>
<g id="a205"><rect class="bg" x="355" y="220" width="40" height="12"/><text class="t" x="375" y="228.2">C級グルメ</text></g>
<g id="a206"><rect class="br" x="323" y="240" width="32" height="12"/><text class="t" x="339" y="248.2">北部市場</text></g>
<g id="a207"><rect class="br" x="413" y="248" width="72" height="12"/><text class="t" x="449" y="256.2">川崎北部への施設誘致</text></g>
<g id="a208"><rect class="br" x="400" y="278.5" width="38" height="11"/><text class="t" x="419" y="286.2">宮前青年部</text></g>
<g id="a209"><rect class="br" x="407" y="311" width="88" height="16"/><text class="t" x="451" y="317.7">Restaurant &amp; cafe 街かど下<tspan x="451" dy="7">（さざらプロダクション）</tspan></text></g>
<g id="a210"><rect class="br" x="373" y="323" width="34" height="12"/><text class="t" x="390" y="331.2">食育会</text></g>
<g id="a211"><rect class="bg" x="317" y="341.5" width="54" height="11"/><text class="t" x="344" y="349.2">ママ友ランチの会</text></g>
<g id="a212"><rect class="br" x="376.5" y="345" width="65" height="12"/><text class="t" x="409" y="353.2">ひとりぐらし会食会</text></g>
<g id="a213"><rect class="bg" x="499" y="247.5" width="62" height="11"/><text class="t" x="530" y="255.2">スポーツ推進委員会</text></g>
<g id="a214"><rect class="bg" x="570" y="237.5" width="48" height="19"/><text class="t" x="594" y="245.7">総合型地域<tspan x="594" dy="7">スポーツクラブ</tspan></text></g>
<g id="a215"><rect class="by" x="628" y="240" width="54" height="18"/><text class="t" x="655" y="247.7">スポーツ（競技）<tspan x="655" dy="7">（アイデア）</tspan></text></g>
<g id="a216"><rect class="br" x="627.5" y="272" width="67" height="12"/><text class="t" x="661" y="280.2">宮前スポーツプラザ</text></g>
<g id="a217"><rect class="br" x="621.5" y="298" width="45" height="12"/><text class="t" x="644" y="306.2">フロンタウン</text></g>
<g id="a218"><rect class="bg" x="585" y="326" width="62" height="12"/><text class="t" x="616" y="334.2">スポーツセンター</text></g>
<g id="a219"><rect class="bg" x="506" y="347.5" width="76" height="19"/><text class="t" x="544" y="355.7">NPO法人<tspan x="544" dy="7">ファンズアスリートクラブ</tspan></text></g>
<g id="a220"><rect class="bg" x="472" y="287" width="56" height="16"/><text class="t" x="500" y="293.7">各種エクササイズ<tspan x="500" dy="7">トレーナー</tspan></text></g>

<g id="notes" font-family="'Noto Sans CJK JP',sans-serif" fill="#1f4f98">
<text x="760" y="810" font-size="6.5" font-weight="bold">「宮前区活動相関図」について</text>
<text x="757" y="817" font-size="5.4">2019年7月～9月に宮前区が開催した多世代交流およびみどりを対象とした意見交換会において、</text>
<text x="757" y="824" font-size="5.4">参加者の皆様より情報をいただき、宮前区内の活動を取りまとめ、つながり等の関係性を相関図にしました。</text>
<text x="757" y="831" font-size="5.4">宮前区の皆さまの手で更新中。「対象×テーマ」では、様々な対象や活動テーマごとに整理しました。</text>
</g>

<g id="legend">
<rect x="1057" y="598" width="141" height="241" fill="#fff" stroke="#2d6eb4" stroke-width="3"/>
<text x="1127" y="618" font-family="'Noto Sans CJK JP',sans-serif" font-size="11" fill="#555" text-anchor="middle">凡例</text>
<ellipse cx="1075" cy="639" rx="9" ry="7" fill="#5ba32b"/><text class="lt" x="1088" y="637">農、公園・花植え活動、環境、<tspan x="1088" dy="8">川・谷戸・森</tspan></text>
<ellipse cx="1075" cy="659" rx="9" ry="7" fill="#f58bc6"/><text class="lt" x="1088" y="662">子ども・子育て</text>
<ellipse cx="1075" cy="679" rx="9" ry="7" fill="#f39a12"/><text class="lt" x="1088" y="677">高齢者、障がい者、<tspan x="1088" dy="8">防災・防犯・交通安全</tspan></text>
<ellipse cx="1075" cy="706" rx="9" ry="7" fill="#2590dc"/><text class="lt" x="1088" y="703">本、文化・音楽・芸術、歴史、<tspan x="1088" dy="8">外国人国際交流</tspan></text>
<ellipse cx="1075" cy="727" rx="9" ry="7" fill="#1b6cc9"/><text class="lt" x="1088" y="730">スポーツ、にぎわいづくり</text>
<ellipse cx="1075" cy="745" rx="9" ry="7" fill="#e2c11c"/><text class="lt" x="1088" y="748">テーマをつなぐ手法・場</text>
<rect class="bg" x="1066" y="757" width="18" height="10"/><text class="lt" x="1088" y="765">つながる活動</text>
<rect class="bb" x="1066" y="772" width="18" height="10"/><text class="lt" x="1088" y="780">複数のつながりを持つ活動</text>
<rect class="by" x="1066" y="788" width="18" height="10"/><text class="lt" x="1088" y="796">アイデア</text>
<rect class="br" x="1066" y="805" width="18" height="10"/><text class="lt" x="1088" y="813">紙面に示されている活動</text>
<path d="M1066,827 L1084,827" stroke="#b89bc8" stroke-width="1.5" marker-start="url(#ah)" marker-end="url(#ah)"/><text class="lt" x="1088" y="830">活動同士のつながり</text>
</g>
</svg>
